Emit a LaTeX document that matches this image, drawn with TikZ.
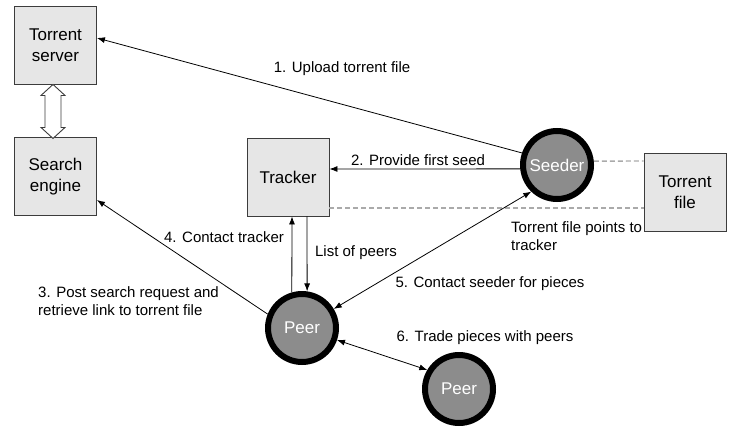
\documentclass[tikz,border=0pt]{standalone}
\usepackage{fontspec}
\setmainfont{Liberation Sans}
\usetikzlibrary{arrows.meta}
\definecolor{boxfill}{RGB}{230,230,230}
\definecolor{boxline}{RGB}{60,60,60}
\definecolor{peerfill}{RGB}{140,140,140}
\definecolor{dashgray}{RGB}{170,170,170}
\begin{document}
\begin{tikzpicture}[x=1pt,y=-1pt,
  boxnode/.style={draw=boxline,fill=boxfill,line width=0.9pt,minimum width=82pt,minimum height=78pt,align=center,inner sep=0pt,font=\fontsize{17}{21}\selectfont},
  peernode/.style={circle,draw=black,fill=peerfill,line width=6pt,minimum size=68pt,inner sep=0pt,text=white,font=\fontsize{17}{21}\selectfont},
  lbl/.style={inner sep=0pt,font=\fontsize{15}{18}\selectfont},
  arr/.style={line width=0.8pt,-{Latex[length=8pt,width=6pt]}},
  darr/.style={line width=0.8pt,{Latex[length=8pt,width=6pt]}-{Latex[length=8pt,width=6pt]}},
  dsh/.style={draw=dashgray,line width=1.4pt,dash pattern=on 5pt off 3pt},
  hollow/.style={draw=boxline,fill=white,line width=0.9pt}]
\useasboundingbox (0,0) rectangle (735,439);
\node[boxnode] (tserver) at (55.5,45) {Torrent\\server};
\node[boxnode] (search) at (55.5,176.5) {Search\\engine};
\node[boxnode] (tracker) at (288,177) {Tracker};
\node[boxnode] (tfile) at (685,192) {Torrent\\file};
\node[peernode] (seeder) at (557,165) {Seeder};
\node[peernode] (peer) at (302,328) {Peer};
\node[peernode] (peer2) at (459,389) {Peer};
% hollow double arrow
\coordinate (da) at ([xshift=-2.5pt]tserver.south);
\draw[hollow] (da) -- ++(12,11) -- ++(-4,0) -- ++(0,32) -- ++(4,0) -- ++(-12,11) -- ++(-12,-11) -- ++(4,0) -- ++(0,-32) -- ++(-4,0) -- cycle;
% dashed lines
\draw[dsh] (seeder.6) -- ([yshift=31pt]tfile.west);
\draw[dsh] ([yshift=-31pt]tracker.east) -- ([yshift=-16pt]tfile.west);
% connectors
\draw[arr] (seeder.161) -- ([yshift=7pt]tserver.east);
\draw[arr] (seeder.186) -- ([yshift=8pt]tracker.east);
\draw[arr] (peer.158) -- ([yshift=-23.5pt]search.east);
\draw[arr] (peer.106) -- ([xshift=4pt]tracker.south);
\draw[arr] ([xshift=19pt]tracker.south) -- (peer.82);
\draw[darr] (peer.31) -- (seeder.226);
\draw[darr] (peer.-19) -- (peer2.149.5);
% labels
\node[lbl] (l1) at (342,69) {1. Upload torrent file};
\node[lbl] (l2) at (418,160) {2. Provide first seed};
\node[lbl,anchor=north west,align=left] (lt) at (511,221) {Torrent file points to\\tracker};
\node[lbl] (l4) at (224,237) {4. Contact tracker};
\node[lbl] (lp) at (356,253) {List of peers};
\node[lbl,anchor=west,align=left] (l3) at (38,301) {3. Post search request and\\retrieve link to torrent file};
\node[lbl] (l5) at (490,284) {5. Contact seeder for pieces};
\node[lbl] (l6) at (485,338) {6. Trade pieces with peers};
\end{tikzpicture}
\end{document}
